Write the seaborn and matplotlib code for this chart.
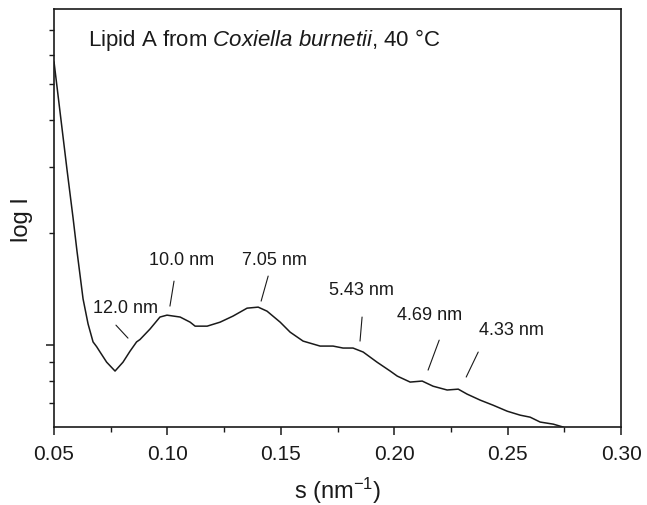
import pandas as pd
import seaborn as sns
import matplotlib.pyplot as plt
from matplotlib.ticker import FixedLocator, NullFormatter, MultipleLocator

# --- Data ---
s_values = [0.0500, 0.0526, 0.0557, 0.0584, 0.0601, 0.0628, 0.0650, 0.0672,
            0.0688, 0.0703, 0.0732, 0.0769, 0.0804, 0.0835, 0.0864, 0.0879,
            0.0923, 0.0967, 0.0998, 0.1056, 0.1100, 0.1122, 0.1175, 0.1232,
            0.1289, 0.1351, 0.1400, 0.1439, 0.1497, 0.1541, 0.1598, 0.1673,
            0.1730, 0.1774, 0.1818, 0.1863, 0.1924, 0.1982, 0.2013, 0.2070,
            0.2123, 0.2171, 0.2233, 0.2282, 0.2321, 0.2379, 0.2436, 0.2498,
            0.2555, 0.2599, 0.2643, 0.2701, 0.2745]
intensity = [5.74, 4.24, 2.96, 2.19, 1.79, 1.33, 1.14, 1.02,
             0.990, 0.958, 0.900, 0.852, 0.900, 0.963, 1.020, 1.035,
             1.104, 1.189, 1.203, 1.189, 1.152, 1.124, 1.124, 1.152,
             1.196, 1.256, 1.264, 1.233, 1.152, 1.083, 1.025, 0.994,
             0.994, 0.982, 0.982, 0.958, 0.900, 0.852, 0.826, 0.796,
             0.801, 0.776, 0.758, 0.762, 0.739, 0.712, 0.690, 0.665,
             0.649, 0.641, 0.622, 0.614, 0.603]

# --- Peak annotations ---
peak_labels = ["12.0 nm", "10.0 nm", "7.05 nm", "5.43 nm", "4.69 nm", "4.33 nm"]
label_s = [0.0672, 0.0919, 0.1329, 0.1713, 0.2012, 0.2374]
label_i = [1.226, 1.649, 1.649, 1.370, 1.174, 1.070]
stroke_s_top = [0.0773, 0.1029, 0.1444, 0.1858, 0.2198, 0.2370]
stroke_i_top = [1.131, 1.484, 1.531, 1.189, 1.031, 0.958]
stroke_s_bot = [0.0826, 0.1011, 0.1413, 0.1849, 0.2149, 0.2317]
stroke_i_bot = [1.044, 1.272, 1.312, 1.025, 0.857, 0.821]

df = pd.DataFrame({"s": s_values, "I": intensity})

sns.set_style("ticks")
plt.rcParams["font.family"] = ["Liberation Sans", "DejaVu Sans"]
plt.rcParams["mathtext.fontset"] = "custom"
plt.rcParams["mathtext.rm"] = "Liberation Sans"
plt.rcParams["mathtext.it"] = "Liberation Sans:italic"

ink = "#1a1a1a"
fig = plt.figure(figsize=(6.47, 5.06), dpi=100)
ax = fig.add_axes([0.0835, 0.154, 0.8765, 0.826])

sns.lineplot(data=df, x="s", y="I", color=ink, linewidth=1.1, ax=ax, sort=False)

for x0, y0, x1, y1 in zip(stroke_s_top, stroke_i_top, stroke_s_bot, stroke_i_bot):
    ax.plot([x0, x1], [y0, y1], color=ink, linewidth=0.8)

for lab, x, y in zip(peak_labels, label_s, label_i):
    ax.text(x, y, lab, fontsize=13, color=ink, ha="left", va="baseline")

ax.text(0.06, 0.914, r"Lipid A from $Coxiella\ burnetii$, 40 °C",
        transform=ax.transAxes, fontsize=16, color=ink, ha="left", va="baseline")

ax.set_yscale("log")
ax.set_xlim(0.05, 0.30)
ax.set_ylim(0.603, 7.95)
ax.set_xticks([0.05, 0.10, 0.15, 0.20, 0.25, 0.30])
ax.set_xticklabels(["0.05", "0.10", "0.15", "0.20", "0.25", "0.30"])
ax.xaxis.set_minor_locator(MultipleLocator(0.025))
ax.yaxis.set_major_locator(FixedLocator([1.0]))
ax.yaxis.set_minor_locator(FixedLocator([0.7, 0.8, 0.9, 2, 3, 4, 5, 6, 7]))
ax.yaxis.set_major_formatter(NullFormatter())
ax.yaxis.set_minor_formatter(NullFormatter())

ax.tick_params(axis="both", which="major", direction="out", length=6, width=1.1,
               color=ink, labelsize=15, labelcolor=ink, pad=6)
ax.tick_params(axis="both", which="minor", direction="out", length=3.5, width=1.0,
               color=ink)
for sp in ax.spines.values():
    sp.set_color(ink)
    sp.set_linewidth(1.2)

ax.set_xlabel(r"s (nm$^{-1}$)", fontsize=17, color=ink, labelpad=9)
ax.set_ylabel("log I", fontsize=17, color=ink, labelpad=3)

fig.savefig("out.png", dpi=100)
